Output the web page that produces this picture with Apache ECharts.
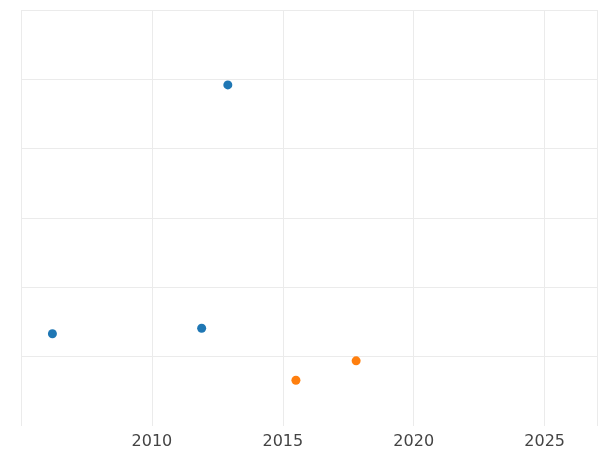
<!DOCTYPE html>
<html><head><meta charset="utf-8">
<script src="https://cdn.jsdelivr.net/npm/echarts@6/dist/echarts.min.js"></script>
<style>html,body{margin:0;padding:0;background:#fff}#c{width:600px;height:450px}</style>
</head><body><div id="c"></div>
<script>
// scatter, two groups
var blueX = [2006.2, 2011.9, 2012.9];
var blueY = [1.33, 1.41, 4.92];
var orangeX = [2015.5, 2017.8];
var orangeY = [0.66, 0.94];
var xTicks = [2010, 2015, 2020, 2025];

function pairs(xs, ys) { return xs.map(function (x, i) { return [x, ys[i]]; }); }

var myChart = echarts.init(document.getElementById('c'));
myChart.setOption({
    animation: false,
    grid: { left: 21, right: -2, top: 10, bottom: 24 },
    xAxis: {
        type: 'value', min: 2005, max: 2027, interval: 5,
        axisLine: { show: false }, axisTick: { show: false },
        splitLine: { lineStyle: { color: '#ebebeb', width: 1 } },
        axisLabel: {
            color: '#444', fontSize: 16, fontFamily: 'DejaVu Sans', margin: 8,
            formatter: function (v) { return xTicks.indexOf(v) >= 0 ? v : ''; }
        }
    },
    yAxis: {
        type: 'value', min: 0, max: 6, interval: 1,
        axisLine: { show: false }, axisTick: { show: false },
        axisLabel: { show: false },
        splitLine: { showMinLine: false, lineStyle: { color: '#ebebeb', width: 1 } }
    },
    series: [
        { type: 'scatter', symbolSize: 9, itemStyle: { color: '#1f77b4', opacity: 1 }, data: pairs(blueX, blueY) },
        { type: 'scatter', symbolSize: 9, itemStyle: { color: '#ff7f0e', opacity: 1 }, data: pairs(orangeX, orangeY) }
    ]
});
</script></body></html>
